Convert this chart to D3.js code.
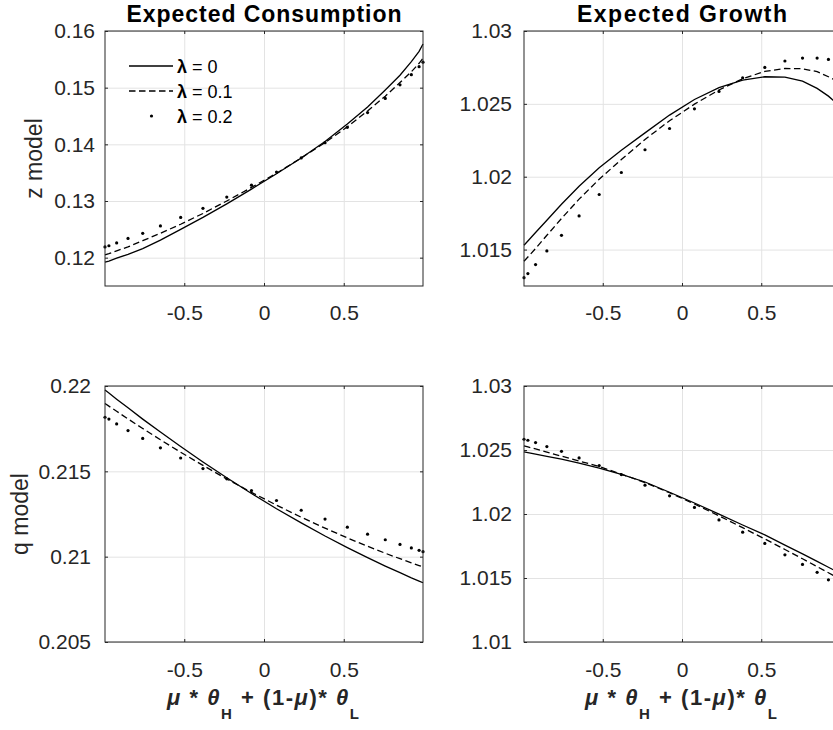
<!DOCTYPE html>
<html>
<head>
<meta charset="utf-8">
<script src="https://cdnjs.cloudflare.com/ajax/libs/d3/7.8.5/d3.min.js"></script>
<style>
body{margin:0;background:#fff;}
svg text{font-family:"Liberation Sans",Arial,sans-serif;}
</style>
</head>
<body>
<svg id="chart"></svg>
<script>
// collocation nodes on the x axis
var xNodes = [-0.9969, -0.9724, -0.9239, -0.8526, -0.7604, -0.6494, -0.5225, -0.3827, -0.2334, -0.0785,
              0.0785, 0.2334, 0.3827, 0.5225, 0.6494, 0.7604, 0.8526, 0.9239, 0.9724, 0.9969];

// z model, expected consumption (lambda = 0, 0.1, 0.2)
var zCons0 = [0.1192,0.1194,0.1199,0.1206,0.1216,0.1231,0.1250,0.1271,0.1295,0.1321,0.1348,0.1376,0.1405,0.1436,0.1466,0.1496,0.1522,0.1546,0.1564,0.1577];
var zCons1 = [0.1205,0.1207,0.1212,0.1219,0.1230,0.1243,0.1259,0.1278,0.1300,0.1324,0.1349,0.1376,0.1403,0.1431,0.1459,0.1485,0.1509,0.1528,0.1543,0.1552];
var zCons2 = [0.1219,0.1221,0.1226,0.1234,0.1243,0.1256,0.1271,0.1287,0.1307,0.1328,0.1351,0.1376,0.1403,0.1430,0.1456,0.1481,0.1505,0.1523,0.1537,0.1545];

// z model, expected growth
var zGrow0 = [1.01530,1.01559,1.01617,1.01701,1.01811,1.01935,1.02061,1.02182,1.02301,1.02423,1.02530,1.02611,1.02663,1.02686,1.02684,1.02656,1.02606,1.02553,1.02508,1.02480];
var zGrow1 = [1.01420,1.01449,1.01507,1.01598,1.01713,1.01846,1.01983,1.02118,1.02256,1.02384,1.02498,1.02595,1.02672,1.02723,1.02743,1.02741,1.02721,1.02686,1.02659,1.02645];
var zGrow2 = [1.01307,1.01335,1.01397,1.01491,1.01598,1.01731,1.01878,1.02029,1.02185,1.02331,1.02466,1.02585,1.02679,1.02750,1.02794,1.02814,1.02814,1.02805,1.02794,1.02787];

// q model, expected consumption
var qCons0 = [0.21977,0.21959,0.21923,0.21872,0.21806,0.21730,0.21645,0.21555,0.21462,0.21370,0.21281,0.21198,0.21121,0.21053,0.20994,0.20945,0.20906,0.20876,0.20857,0.20847];
var qCons1 = [0.21898,0.21882,0.21852,0.21807,0.21751,0.21685,0.21612,0.21535,0.21455,0.21377,0.21302,0.21231,0.21167,0.21110,0.21061,0.21020,0.20988,0.20964,0.20948,0.20940];
var qCons2 = [0.21817,0.21806,0.21778,0.21739,0.21693,0.21638,0.21578,0.21516,0.21456,0.21387,0.21329,0.21272,0.21220,0.21173,0.21132,0.21099,0.21072,0.21051,0.21037,0.21029];

// q model, expected growth
var qGrow0 = [1.02485,1.02479,1.02468,1.02451,1.02428,1.02397,1.02358,1.02310,1.02250,1.02170,1.02086,1.01999,1.01914,1.01837,1.01757,1.01688,1.01630,1.01584,1.01553,1.01537];
var qGrow1 = [1.02532,1.02524,1.02508,1.02484,1.02452,1.02414,1.02371,1.02312,1.02245,1.02166,1.02078,1.01986,1.01893,1.01805,1.01723,1.01650,1.01589,1.01541,1.01508,1.01492];
var qGrow2 = [1.02584,1.02576,1.02558,1.02527,1.02490,1.02438,1.02378,1.02308,1.02225,1.02142,1.02051,1.01954,1.01858,1.01770,1.01681,1.01606,1.01544,1.01486,1.01453,1.01434];

var lambdaLabels = ["0", "0.1", "0.2"];
var xTicks = [-0.5, 0, 0.5];
var zConsTicks = [0.12, 0.13, 0.14, 0.15, 0.16];
var zGrowTicks = [1.015, 1.02, 1.025, 1.03];
var qConsTicks = [0.205, 0.21, 0.215, 0.22];
var qGrowTicks = [1.01, 1.015, 1.02, 1.025, 1.03];

var screen = {width: 833, height: 730};
var ink = "#262626";

var svg = d3.select("#chart")
            .attr("width", screen.width)
            .attr("height", screen.height);

svg.append("rect")
   .attr("width", screen.width)
   .attr("height", screen.height)
   .attr("fill", "#fff");

var panels = [
  {left:105, top:31,  w:318, h:255, y:[0.115,0.16], ticks:zConsTicks, pad:10, series:[zCons0,zCons1,zCons2],
   title:"Expected Consumption", ylabel:"z model", ylabelX:42, legend:true},
  {left:524, top:31,  w:316, h:255, y:[1.0125,1.03], ticks:zGrowTicks, pad:12, series:[zGrow0,zGrow1,zGrow2],
   title:"Expected Growth"},
  {left:105, top:386, w:318, h:256, y:[0.205,0.22], ticks:qConsTicks, pad:14, series:[qCons0,qCons1,qCons2],
   ylabel:"q model", ylabelX:28, xlabel:true},
  {left:524, top:386, w:316, h:256, y:[1.01,1.03], ticks:qGrowTicks, pad:12, series:[qGrow0,qGrow1,qGrow2],
   xlabel:true}
];

var drawPanel = function(p)
{
  var xScale = d3.scaleLinear()
                 .domain([xNodes[0], xNodes[xNodes.length-1]])
                 .range([0, p.w]);
  var yScale = d3.scaleLinear()
                 .domain(p.y)
                 .range([p.h, 0]);

  var plot = svg.append("g")
                .attr("transform", "translate(" + p.left + "," + p.top + ")");

  // grid
  plot.append("g")
      .attr("transform", "translate(0," + p.h + ")")
      .call(d3.axisBottom(xScale).tickValues(xTicks).tickSize(-p.h).tickFormat(""))
      .call(function(g){ g.select(".domain").remove(); g.selectAll("line").attr("stroke","#e3e3e3"); });
  plot.append("g")
      .call(d3.axisLeft(yScale).tickValues(p.ticks).tickSize(-p.w).tickFormat(""))
      .call(function(g){ g.select(".domain").remove(); g.selectAll("line").attr("stroke","#e3e3e3"); });

  // data
  var line = d3.line()
               .x(function(d, i){ return xScale(xNodes[i]); })
               .y(function(d){ return yScale(d); });

  plot.append("path")
      .datum(p.series[0])
      .attr("d", line)
      .attr("fill", "none")
      .attr("stroke", "#000")
      .attr("stroke-width", 1.3);

  plot.append("path")
      .datum(p.series[1])
      .attr("d", line)
      .attr("fill", "none")
      .attr("stroke", "#000")
      .attr("stroke-width", 1.3)
      .attr("stroke-dasharray", "6.5,3.5");

  plot.selectAll("circle.dot")
      .data(p.series[2])
      .enter()
      .append("circle")
      .attr("class", "dot")
      .attr("cx", function(d, i){ return xScale(xNodes[i]); })
      .attr("cy", function(d){ return yScale(d); })
      .attr("r", 1.6)
      .attr("fill", "#000");

  // axes with inward ticks
  var bottom = plot.append("g")
      .attr("transform", "translate(0," + p.h + ")")
      .call(d3.axisBottom(xScale).tickValues(xTicks).tickSizeInner(-3).tickSizeOuter(0).tickPadding(p.xlabel ? 20 : 19)
            .tickFormat(function(d){ return d === 0 ? "0" : String(d); }));
  var left = plot.append("g")
      .call(d3.axisLeft(yScale).tickValues(p.ticks).tickSizeInner(-3).tickSizeOuter(0).tickPadding(p.pad)
            .tickFormat(function(d){ return String(d); }));
  var top = plot.append("g")
      .call(d3.axisTop(xScale).tickValues(xTicks).tickSizeInner(-3).tickSizeOuter(0).tickFormat(""));
  var right = plot.append("g")
      .attr("transform", "translate(" + p.w + ",0)")
      .call(d3.axisRight(yScale).tickValues(p.ticks).tickSizeInner(-3).tickSizeOuter(0).tickFormat(""));

  [bottom, left, top, right].forEach(function(g)
  {
    g.attr("color", ink).attr("font-size", 21).attr("font-family", null);
    g.select(".domain").remove();
  });

  plot.append("rect")
      .attr("width", p.w)
      .attr("height", p.h)
      .attr("fill", "none")
      .attr("stroke", ink)
      .attr("stroke-width", 1);

  if (p.title)
  {
    plot.append("text")
        .attr("x", p.w / 2)
        .attr("y", -9)
        .attr("text-anchor", "middle")
        .attr("font-size", 23)
        .attr("font-weight", "bold")
        .attr("fill", "#000")
        .attr("textLength", p.title.length > 16 ? 275 : 210)
        .attr("lengthAdjust", "spacing")
        .text(p.title);
  }

  if (p.ylabel)
  {
    svg.append("text")
       .attr("transform", "translate(" + p.ylabelX + "," + (p.top + p.h / 2) + ") rotate(-90)")
       .attr("text-anchor", "middle")
       .attr("font-size", 23)
       .attr("fill", ink)
       .text(p.ylabel);
  }

  if (p.xlabel)
  {
    var t = plot.append("text")
        .attr("x", p.w / 2 - 1)
        .attr("y", p.h + 63)
        .attr("text-anchor", "middle")
        .attr("font-size", 22)
        .attr("font-weight", "bold")
        .attr("fill", ink)
        .attr("textLength", 192)
        .attr("lengthAdjust", "spacing");
    t.append("tspan").attr("font-style", "italic").text("\u03bc");
    t.append("tspan").text(" * ");
    t.append("tspan").attr("font-style", "italic").text("\u03b8");
    t.append("tspan").attr("font-size", 15).attr("dy", 14).text("H");
    t.append("tspan").attr("dy", -14).text(" + (1-");
    t.append("tspan").attr("font-style", "italic").text("\u03bc");
    t.append("tspan").text(")* ");
    t.append("tspan").attr("font-style", "italic").text("\u03b8");
    t.append("tspan").attr("font-size", 15).attr("dy", 14).text("L");
  }

  if (p.legend)
  {
    var legend = plot.append("g")
                     .attr("transform", "translate(24,35)");
    lambdaLabels.forEach(function(lab, i)
    {
      var row = legend.append("g").attr("transform", "translate(0," + (i * 25) + ")");
      if (i < 2)
      {
        row.append("line")
           .attr("x1", 0).attr("x2", 44)
           .attr("stroke", "#000").attr("stroke-width", 1.3)
           .attr("stroke-dasharray", i === 1 ? "6.5,3.5" : null);
      }
      else
      {
        row.append("circle").attr("cx", 22.5).attr("r", 1.6).attr("fill", "#000");
      }
      var txt = row.append("text")
                   .attr("x", 48)
                   .attr("y", 7)
                   .attr("font-size", 18)
                   .attr("fill", "#000");
      txt.append("tspan").attr("font-weight", "bold").text("\u03bb");
      txt.append("tspan").text(" = " + lab);
    });
  }
};

panels.forEach(drawPanel);
</script>
</body>
</html>
